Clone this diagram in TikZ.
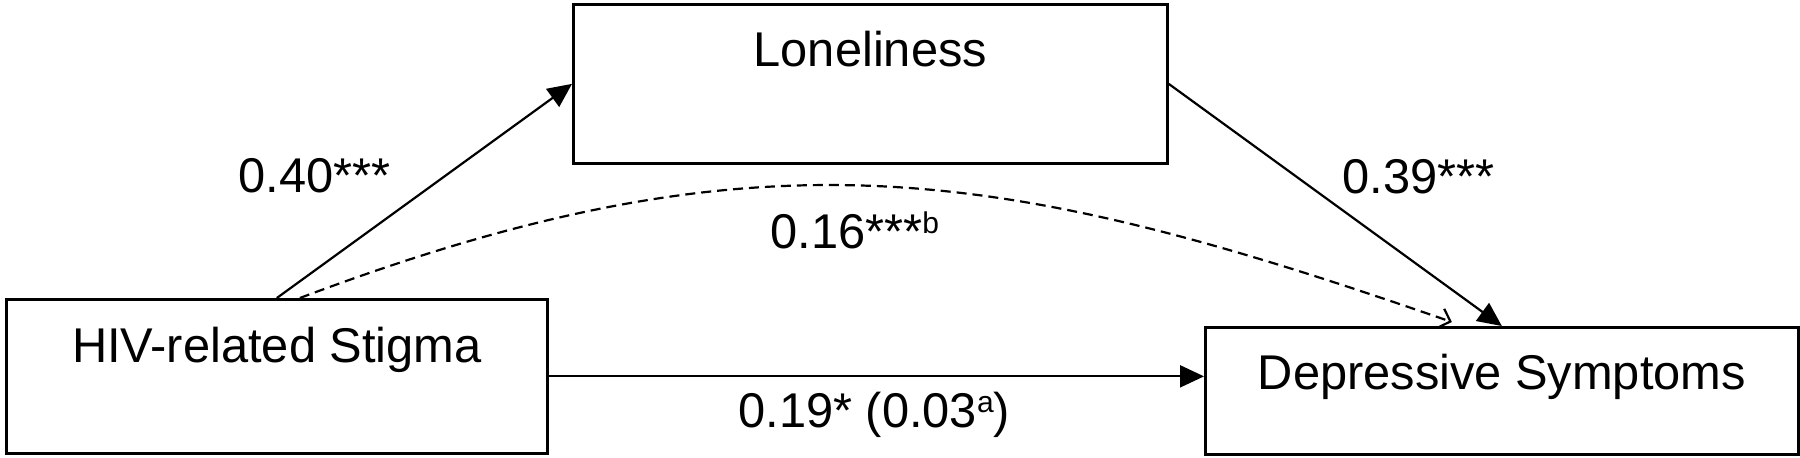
\documentclass[tikz,border=0pt]{standalone}
\usepackage{fontspec}
\setmainfont{Liberation Sans}
\usetikzlibrary{arrows.meta,calc}
\newcommand\supx[1]{\raisebox{7.5pt}{\fontsize{15}{15}\selectfont #1}}
\begin{document}
\begin{tikzpicture}[x=0.5pt,y=-0.5pt,
  box/.style={draw, line width=1.35pt, rectangle, inner sep=0pt, anchor=north west,
    font=\fontsize{24.4}{29}\selectfont},
  lbl/.style={inner sep=0pt, anchor=base west, font=\fontsize{24.4}{29}\selectfont},
  conn/.style={line width=1.1pt, -{Triangle[length=12pt,width=11pt]}},
  dsh/.style={line width=1.1pt, dash pattern=on 5pt off 3pt,
    -{Straight Barb[length=5pt,width=10pt]}}]
\useasboundingbox (0,0) rectangle (1800,457);
\node[box, minimum width=297pt, text height=31pt, text depth=48.5pt] (lone) at (572,3) {Loneliness};
\node[box, minimum width=270.5pt, text height=31.5pt, text depth=45.5pt] (hiv) at (5,298) {HIV-related Stigma};
\node[box, minimum width=296.5pt, text height=31pt, text depth=32.5pt] (dep) at (1204,326) {Depressive Symptoms};
\draw[conn] (hiv.north) -- (lone.west);
\draw[conn] (lone.east) -- (dep.north);
\draw[conn] (hiv.east) -- (hiv.east -| dep.west);
\draw[dsh] ($(hiv.north)+(23,0)$) .. controls (760,125) and (1000,165) .. ($(dep.north)+(-50,-4)$);
\node[lbl] (l40) at (238,192) {0.40***};
\node[lbl] (l39) at (1342,193) {0.39***};
\node[lbl] (l16) at (770,248) {0.16***\supx{b}};
\node[lbl] (l19) at (738,427) {0.19* (0.03\supx{a})};
\end{tikzpicture}
\end{document}
